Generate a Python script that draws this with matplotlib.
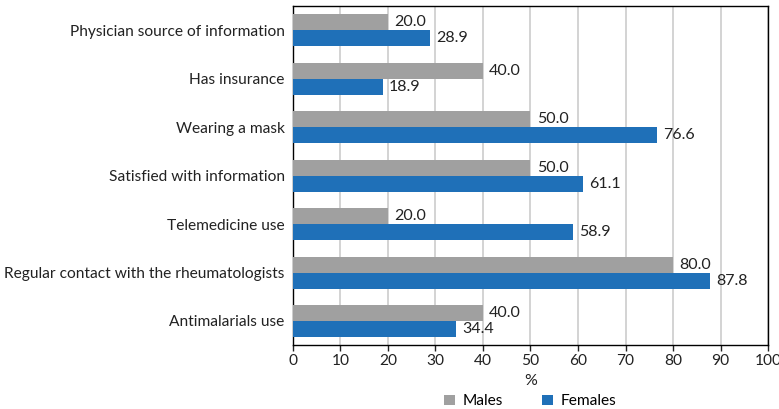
import numpy as np
import matplotlib
matplotlib.use("Agg")
import matplotlib.pyplot as plt

categories = [
    "Physician source of information",
    "Has insurance",
    "Wearing a mask",
    "Satisfied with information",
    "Telemedicine use",
    "Regular contact with the rheumatologists",
    "Antimalarials use",
]
males = [20.0, 40.0, 50.0, 50.0, 20.0, 80.0, 40.0]
females = [28.9, 18.9, 76.6, 61.1, 58.9, 87.8, 34.4]

plt.rcParams["font.family"] = ["Lato", "DejaVu Sans"]
plt.rcParams["font.size"] = 11.2

fig = plt.figure(figsize=(7.79, 4.09), dpi=100)
ax = fig.add_axes([0.376, 0.156, 0.61, 0.829])

y = np.arange(len(categories))
h = 0.33
gray = "#a0a0a0"
blue = "#1f70b8"
bm = ax.barh(y - h / 2, males, height=h, color=gray, label="Males", zorder=3)
bf = ax.barh(y + h / 2, females, height=h, color=blue, label="Females", zorder=3)

for bars, vals in ((bm, males), (bf, females)):
    for b, v in zip(bars, vals):
        ax.text(v + 1.3, b.get_y() + b.get_height() / 2, f"{v:.1f}",
                va="center", ha="left", fontsize=11.5, color="#222222", zorder=4)

ax.set_yticks(y)
ax.set_yticklabels(categories, color="#222222")
ax.set_ylim(len(categories) - 0.5, -0.5)
ax.set_xlim(0, 100)
ax.set_xticks(np.arange(0, 101, 10))
ax.tick_params(axis="y", length=0, pad=6)
ax.tick_params(axis="x", length=4, colors="#222222", width=1, pad=2, labelsize=11.2)
ax.grid(axis="x", color="#cccccc", linewidth=1.2, zorder=0)
for s in ax.spines.values():
    s.set_color("black")
    s.set_linewidth(1)
ax.set_xlabel("%", labelpad=5, color="#222222", fontsize=11.5)

fig.legend(handles=[bm, bf], loc="lower center", bbox_to_anchor=(0.681, -0.033),
           ncol=2, frameon=False, handlelength=0.7, handleheight=0.7,
           columnspacing=2.5, handletextpad=0.5)

fig.savefig("out.png", dpi=100)
